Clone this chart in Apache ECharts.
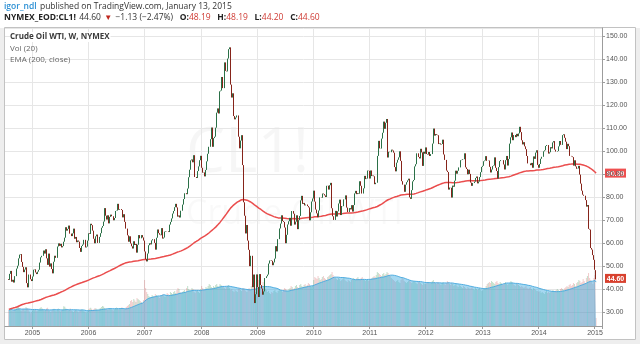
<!DOCTYPE html>
<html>
<head>
<meta charset="utf-8">
<script src="https://cdn.jsdelivr.net/npm/echarts@6/dist/echarts.min.js"></script>
<style>
  html, body { margin: 0; padding: 0; background: #ffffff; }
  #chart { width: 640px; height: 344px; }
</style>
</head>
<body>
<div id="chart"></div>
<script>
// Weekly closes of the WTI front-month contract (CL1!), one value per week, Aug 2004 - Jan 2015.
const closes2004 = [43.95, 46.58, 47.86, 43.18, 43.99, 42.81, 45.59, 48.88, 50.12, 53.31, 54.93, 55.17, 51.76, 49.61, 47.32, 48.44, 49.44, 42.54, 40.71, 46.28, 44.24, 43.45];
const closes2005 = [45.43, 48.38, 48.55, 47.18, 46.48, 47.54, 48.35, 51.49, 53.78, 54.43, 56.72, 55.40, 57.27, 53.32, 50.49, 55.39, 49.72, 51.12, 48.67, 46.80, 51.85, 54.45, 53.54, 58.47, 59.84, 58.75, 59.63, 58.09, 58.65, 60.57, 62.31, 66.86, 65.36, 66.13, 67.57, 64.08, 63.00, 64.19, 66.24, 61.84, 62.63, 60.34, 61.09, 60.58, 57.83, 56.14, 58.71, 59.32, 61.37, 58.06, 58.43, 61.04];
const closes2006 = [64.21, 63.92, 68.35, 67.76, 65.37, 61.84, 59.88, 62.91, 63.67, 60.04, 62.66, 64.26, 66.63, 67.39, 69.32, 75.17, 71.88, 70.19, 72.04, 68.53, 71.37, 72.33, 71.63, 69.89, 70.87, 73.93, 74.09, 77.03, 74.43, 74.76, 74.76, 74.35, 71.14, 72.51, 69.20, 66.25, 63.33, 60.55, 62.91, 59.76, 58.57, 57.60, 60.75, 59.14, 59.58, 55.81, 59.24, 63.43, 62.03, 63.43, 62.41, 61.05];
const closes2007 = [56.31, 52.99, 51.99, 55.42, 59.02, 59.89, 59.39, 61.14, 61.64, 60.05, 57.11, 62.28, 65.87, 64.28, 63.63, 63.38, 66.46, 61.93, 62.37, 64.94, 65.20, 65.08, 64.76, 68.00, 69.18, 70.68, 72.81, 73.93, 75.57, 77.02, 75.48, 71.47, 71.98, 71.09, 74.04, 76.70, 79.10, 81.62, 81.66, 81.22, 83.69, 88.60, 91.86, 95.93, 96.32, 95.10, 98.18, 88.71, 88.28, 91.27, 93.31, 96.00];
const closes2008 = [97.91, 92.69, 90.57, 90.71, 88.96, 91.77, 95.50, 98.81, 101.84, 105.15, 110.21, 101.84, 105.62, 106.23, 110.14, 116.69, 118.52, 116.32, 125.96, 126.29, 132.19, 127.35, 138.54, 134.86, 134.62, 140.21, 144.29, 145.08, 128.88, 123.26, 125.10, 115.20, 113.77, 114.59, 115.46, 106.23, 101.18, 104.55, 106.89, 93.88, 77.70, 71.85, 64.15, 67.81, 61.04, 57.04, 49.93, 54.43, 40.81, 46.28, 33.87, 37.71];
const closes2009 = [46.34, 40.83, 36.51, 46.47, 41.68, 40.17, 37.51, 38.94, 44.76, 45.52, 46.25, 51.06, 52.38, 52.51, 52.24, 50.33, 51.55, 53.20, 58.63, 56.34, 61.67, 66.31, 68.44, 72.04, 69.55, 69.16, 66.73, 59.89, 63.56, 68.05, 69.45, 70.93, 67.51, 73.89, 72.74, 68.02, 69.29, 72.04, 66.02, 69.95, 71.77, 78.53, 80.50, 77.00, 77.43, 76.35, 76.72, 76.05, 75.47, 69.87, 73.36, 78.05, 79.36];
const closes2010 = [82.75, 78.00, 74.54, 72.89, 71.19, 74.13, 79.81, 79.66, 81.50, 81.24, 80.68, 80.00, 84.87, 84.92, 83.24, 85.12, 86.15, 75.11, 71.61, 70.04, 73.97, 71.51, 73.78, 77.18, 78.86, 72.14, 76.09, 76.01, 78.98, 78.95, 80.70, 75.39, 73.46, 75.17, 74.60, 76.45, 73.66, 76.49, 81.58, 82.66, 81.25, 81.69, 81.43, 86.85, 84.88, 81.51, 83.76, 89.19, 87.79, 88.02, 91.51, 91.38];
const closes2011 = [88.03, 91.54, 89.11, 89.34, 89.03, 85.58, 86.20, 97.88, 104.42, 101.16, 101.07, 105.40, 107.94, 112.79, 109.66, 112.29, 113.93, 97.18, 99.65, 99.49, 100.59, 100.22, 99.29, 93.01, 91.16, 94.94, 96.20, 97.24, 99.87, 95.70, 86.88, 85.38, 82.26, 85.37, 86.45, 87.24, 87.96, 79.85, 79.20, 82.98, 86.80, 87.40, 93.32, 94.26, 98.99, 97.41, 96.77, 100.96, 99.41, 93.53, 99.68, 98.83];
const closes2012 = [101.56, 98.70, 98.46, 99.56, 97.84, 98.67, 103.24, 109.77, 106.70, 107.40, 107.06, 106.87, 103.02, 103.31, 102.83, 103.05, 104.93, 98.49, 96.13, 91.48, 90.86, 83.23, 84.10, 84.03, 79.76, 84.96, 84.45, 87.10, 91.44, 90.13, 91.40, 92.87, 96.01, 96.15, 96.47, 96.42, 99.00, 92.89, 92.19, 89.88, 91.86, 90.05, 86.28, 84.86, 86.07, 86.67, 88.28, 88.91, 85.93, 86.73, 88.66, 90.80];
const closes2013 = [93.09, 93.56, 95.56, 95.88, 97.77, 95.72, 95.86, 93.13, 90.68, 91.95, 93.45, 93.71, 97.23, 92.70, 91.29, 88.01, 93.00, 95.61, 96.04, 96.02, 94.15, 91.97, 96.03, 97.85, 93.69, 96.56, 103.22, 105.95, 108.05, 104.70, 106.94, 106.03, 107.46, 106.42, 107.65, 110.53, 108.21, 104.67, 102.87, 103.84, 102.02, 100.81, 97.85, 94.61, 94.60, 93.84, 94.84, 92.72, 97.65, 96.60, 99.32, 100.32];
const closes2014 = [93.96, 92.72, 94.37, 96.64, 97.49, 99.88, 100.30, 102.20, 102.59, 102.58, 98.89, 99.46, 101.67, 101.14, 103.74, 104.30, 100.60, 99.76, 99.99, 102.02, 104.35, 102.71, 102.66, 106.91, 107.26, 105.74, 104.06, 100.83, 103.13, 102.09, 97.88, 97.65, 97.35, 93.65, 95.96, 93.29, 92.27, 92.41, 93.54, 89.74, 85.82, 82.75, 81.01, 80.54, 78.65, 75.82, 76.51, 66.15, 65.84, 57.81, 57.13, 54.73];
const closes2015 = [52.69, 48.36, 44.60];

// Weekly volume, thousand contracts, same weeks as the closes.
const volume2004 = [780, 820, 900, 760, 740, 800, 850, 930, 980, 1010, 870, 790, 760, 820, 880, 760, 950, 900, 830, 720, 640, 700];
const volume2005 = [760, 820, 790, 850, 740, 780, 830, 900, 950, 880, 820, 760, 800, 870, 910, 780, 750, 700, 760, 820, 860, 780, 740, 800, 880, 760, 720, 780, 850, 990, 960, 880, 820, 760, 800, 870, 780, 740, 700, 760, 820, 780, 720, 690, 760, 800, 840, 760, 730, 700, 680, 720];
const volume2006 = [820, 880, 910, 860, 800, 840, 900, 870, 820, 780, 860, 900, 950, 1000, 980, 900, 860, 820, 800, 850, 880, 840, 800, 780, 830, 900, 920, 880, 820, 860, 900, 940, 880, 820, 860, 950, 1000, 1050, 1100, 1250, 1300, 1200, 1350, 1280, 1200, 1400, 1350, 1300, 1250, 1200, 1150, 1300];
const volume2007 = [2300, 1900, 1700, 1600, 1500, 1450, 1400, 1550, 1500, 1450, 1600, 1550, 1500, 1450, 1400, 1500, 1550, 1600, 1500, 1450, 1550, 1650, 1600, 1550, 1700, 1650, 1600, 1700, 1750, 1650, 1800, 1900, 1850, 1700, 1650, 1700, 1750, 1800, 1700, 1900, 2000, 1850, 1800, 1750, 1900, 1850, 1700, 1650, 1750, 1800, 1700, 1650];
const volume2008 = [1850, 2000, 1900, 1800, 1850, 1950, 1900, 2000, 2100, 2050, 1950, 1900, 2000, 1950, 2050, 2100, 2000, 1950, 2100, 2050, 1950, 2000, 1900, 1850, 1950, 2000, 2050, 1900, 1800, 1850, 1750, 1700, 1800, 1750, 1700, 1850, 1900, 1800, 1750, 1850, 1900, 1800, 1750, 1700, 1800, 1900, 1850, 2000, 2100, 1950, 1850, 1700];
const volume2009 = [2400, 2550, 2300, 2100, 1900, 1800, 2200, 2000, 1850, 1800, 1700, 1750, 1650, 1600, 1700, 1650, 1750, 1800, 1700, 1650, 1750, 1850, 1800, 1750, 1700, 1800, 1900, 1850, 1800, 1750, 1850, 1900, 2000, 1950, 1850, 1900, 2000, 2050, 1950, 1900, 2050, 2100, 2000, 1950, 2050, 2100, 2000, 2050, 2150, 2100, 2000, 1950, 2050];
const volume2010 = [2300, 2450, 2400, 2350, 2500, 2400, 2300, 2350, 2450, 2500, 2400, 2350, 2300, 2450, 2500, 2550, 2600, 2700, 2550, 2450, 2400, 2350, 2300, 2400, 2350, 2250, 2300, 2350, 2400, 2300, 2250, 2200, 2300, 2250, 2200, 2300, 2350, 2400, 2350, 2300, 2400, 2450, 2350, 2300, 2400, 2450, 2350, 2300, 2250, 2300, 2350, 2250];
const volume2011 = [2300, 2350, 2400, 2450, 2500, 2450, 2550, 2700, 2650, 2600, 2550, 2500, 2600, 2650, 2550, 2600, 2700, 2650, 2550, 2500, 2400, 2350, 2300, 2250, 2200, 2250, 2300, 2200, 2150, 2300, 2400, 2350, 2250, 2200, 2150, 2200, 2250, 2300, 2200, 2150, 2200, 2250, 2200, 2150, 2100, 2200, 2250, 2150, 2100, 2050, 2150, 2100];
const volume2012 = [2100, 2150, 2200, 2150, 2100, 2200, 2250, 2300, 2200, 2150, 2100, 2200, 2150, 2100, 2050, 2150, 2200, 2100, 2050, 2150, 2250, 2200, 2100, 2050, 2150, 2100, 2000, 2050, 2100, 2000, 1950, 2050, 2000, 1950, 1900, 2000, 1950, 1900, 1850, 1950, 1900, 1850, 1900, 1950, 1850, 1800, 1900, 1850, 1800, 1850, 1900, 1800];
const volume2013 = [1750, 1800, 1850, 1900, 2000, 2100, 2150, 2200, 2150, 2250, 2200, 2150, 2100, 2200, 2250, 2150, 2100, 2200, 2150, 2100, 2050, 2150, 2200, 2100, 2050, 2100, 2150, 2250, 2200, 2100, 2050, 2000, 2100, 2150, 2050, 2000, 1950, 2000, 1950, 1900, 1950, 2000, 1900, 1850, 1900, 1950, 1850, 1800, 1900, 1850, 1800, 1750];
const volume2014 = [1750, 1700, 1750, 1650, 1700, 1650, 1600, 1700, 1750, 1650, 1700, 1650, 1700, 1750, 1800, 1700, 1750, 1800, 1850, 1800, 1750, 1850, 1900, 1850, 1800, 1900, 1950, 2000, 1950, 2050, 2100, 2000, 2050, 2150, 2100, 2000, 2150, 2200, 2300, 2250, 2150, 2200, 2350, 2250, 2150, 2400, 2500, 2650, 2400, 2300, 2200, 2100];
const volume2015 = [2400, 2550, 400];

// Current (last) weekly bar as quoted in the header.
const lastOpen = 48.19, lastHigh = 48.19, lastLow = 44.20, lastClose = 44.60;
const firstOpen = 44.30;       // open of the first week
const emaSeed = 31.0;          // EMA(200) value carried in from the weeks before the first bar
const emaLength = 200;
const volMaLength = 20;
const priceTicks = [30, 40, 50, 60, 70, 80, 90, 100, 110, 120, 130, 140, 150];

const closes = [].concat(closes2004, closes2005, closes2006, closes2007, closes2008, closes2009,
  closes2010, closes2011, closes2012, closes2013, closes2014, closes2015);
const volumes = [].concat(volume2004, volume2005, volume2006, volume2007, volume2008, volume2009,
  volume2010, volume2011, volume2012, volume2013, volume2014, volume2015);

// Empty weeks kept on both sides of the series, as the chart leaves a small margin.
const padBefore = 3, padAfter = 5;
const firstMonday = Date.UTC(2004, 6, 12);
const nWeeks = padBefore + closes.length + padAfter;
const weekDates = [];
for (let i = 0; i < nWeeks; i++) {
  const d = new Date(firstMonday + i * 7 * 86400000);
  weekDates.push(d.toISOString().slice(0, 10));
}
const isYearStart = (idx) => idx > 0 && weekDates[idx].slice(0, 4) !== weekDates[idx - 1].slice(0, 4);

// OHLC: each week opens at the previous week's close.
const ohlc = [], volBars = [], emaLine = [], volMa = [];
let ema = emaSeed;
for (let i = 0; i < padBefore; i++) { ohlc.push('-'); volBars.push('-'); emaLine.push('-'); volMa.push('-'); }
closes.forEach((c, i) => {
  const last = i === closes.length - 1;
  const o = last ? lastOpen : (i === 0 ? firstOpen : closes[i - 1]);
  const hi = last ? lastHigh : Math.max(o, c);
  const lo = last ? lastLow : Math.min(o, c);
  ohlc.push([o, c, lo, hi]);
  const up = c >= o;
  volBars.push({ value: volumes[i], itemStyle: { color: up ? 'rgba(60,150,85,0.3)' : 'rgba(205,60,60,0.26)' } });
  ema = ema + (2 / (emaLength + 1)) * (c - ema);
  emaLine.push(+ema.toFixed(2));
  const from = Math.max(0, i - volMaLength + 1);
  const win = volumes.slice(from, i + 1);
  volMa.push(win.reduce((a, b) => a + b, 0) / win.length);
});
for (let i = 0; i < padAfter; i++) { ohlc.push('-'); volBars.push('-'); emaLine.push('-'); volMa.push('-'); }
const emaLast = emaLine[padBefore + closes.length - 1];

const chart = echarts.init(document.getElementById('chart'), null, { renderer: 'canvas' });
const axisFont = '"Liberation Sans", Arial, sans-serif';
const uiFont = '"Open Sans", "Liberation Sans", sans-serif';

const option = {
  animation: false,
  grid: [
    { left: 5, right: 38, top: 28, bottom: 18 },
    { left: 5, right: 38, top: 26, bottom: 18 }
  ],
  xAxis: [
    {
      type: 'category', gridIndex: 0, data: weekDates, boundaryGap: true,
      axisLine: { lineStyle: { color: '#9c9c9c', width: 1 } },
      axisTick: { show: true, interval: (i) => isYearStart(i), length: 3, lineStyle: { color: '#9c9c9c' } },
      axisLabel: { interval: (i) => isYearStart(i), formatter: (v) => v.slice(0, 4), fontSize: 7, color: '#555', margin: 4, fontFamily: axisFont },
      splitLine: { show: true, interval: (i) => isYearStart(i), lineStyle: { color: '#e6e6e6', width: 1 } }
    },
    { type: 'category', gridIndex: 1, data: weekDates, boundaryGap: true, show: false }
  ],
  yAxis: [
    {
      type: 'value', gridIndex: 0, position: 'right', min: 23.9, max: 153.5,
      splitNumber: 13, minInterval: 10, maxInterval: 10, scale: true,
      axisLine: { show: true, lineStyle: { color: '#9c9c9c' } },
      axisTick: { show: true, length: 3, lineStyle: { color: '#9c9c9c' } },
      axisLabel: {
        fontSize: 7, color: '#555', margin: 4, fontFamily: axisFont,
        showMinLabel: false, showMaxLabel: false,
        formatter: (v) => priceTicks.includes(Math.round(v)) && Math.abs(v - Math.round(v)) < 1e-6 ? v.toFixed(2) : ''
      },
      splitLine: { show: true, lineStyle: { color: '#e6e6e6', width: 1 } }
    },
    { type: 'value', gridIndex: 1, min: 0, max: 15000, show: false, splitLine: { show: false } }
  ],
  series: [
    {
      name: 'Vol', type: 'bar', xAxisIndex: 1, yAxisIndex: 1, data: volBars,
      barWidth: 0.7, z: 1, silent: true
    },
    {
      name: 'Vol MA', type: 'line', xAxisIndex: 1, yAxisIndex: 1, data: volMa,
      showSymbol: false, z: 2, silent: true,
      lineStyle: { color: 'rgba(75,170,222,0.95)', width: 1 },
      areaStyle: { color: 'rgba(78,178,228,0.72)' }
    },
    {
      name: 'EMA (200, close)', type: 'line', xAxisIndex: 0, yAxisIndex: 0, data: emaLine,
      showSymbol: false, z: 4, silent: true,
      lineStyle: { color: '#ea4d4d', width: 1.5 }
    },
    {
      name: 'CL1!', type: 'candlestick', xAxisIndex: 0, yAxisIndex: 0, data: ohlc,
      barWidth: 1.3, z: 5, silent: true,
      itemStyle: { color: '#4b9a68', color0: '#b8382a', borderColor: '#2b7047', borderColor0: '#86241a', borderWidth: 1 }
    }
  ],
  graphic: []
};
chart.setOption(option);

function buildGraphics() {
  const tag = (value, text, color) => {
    const y = chart.convertToPixel({ yAxisIndex: 0 }, value);
    return {
      type: 'group', z: 100,
      children: [
        { type: 'rect', shape: { x: 605, y: y - 4.5, width: 21, height: 9 }, style: { fill: color } },
        { type: 'text', x: 615.5, y: y + 0.5, style: { text: text, fill: '#fff', font: 'bold 7px ' + axisFont, align: 'center', verticalAlign: 'middle' } }
      ]
    };
  };
  return [
    // frame around the chart panel
    { type: 'rect', z: -10, silent: true, shape: { x: 0, y: 28, width: 4, height: 316 }, style: { fill: '#eeeeee' } },
    { type: 'rect', z: -10, silent: true, shape: { x: 636, y: 28, width: 4, height: 316 }, style: { fill: '#eeeeee' } },
    { type: 'rect', z: -10, silent: true, shape: { x: 0, y: 340, width: 640, height: 4 }, style: { fill: '#eeeeee' } },
    { type: 'rect', z: -9, silent: true, shape: { x: 4.5, y: 27.5, width: 631, height: 312 }, style: { fill: 'none', stroke: '#c2c2c2', lineWidth: 1 } },
    // faint symbol watermark
    { type: 'text', z: -5, silent: true, x: 186, y: 154, style: { text: 'CL1!', fill: 'rgba(0,0,0,0.035)', font: '62px ' + uiFont, verticalAlign: 'middle' } },
    { type: 'text', z: -5, silent: true, x: 186, y: 214, style: { text: 'Crude Oil WTI', fill: 'rgba(0,0,0,0.025)', font: '34px ' + uiFont, verticalAlign: 'middle' } },
    // header
    {
      type: 'text', x: 4, y: 7, style: {
        text: '{u|igor_ndl} {t|published on TradingView.com, January 13, 2015}', verticalAlign: 'middle',
        rich: {
          u: { fill: '#2a8fd4', font: '600 8.5px ' + uiFont },
          t: { fill: '#333', font: '8.5px ' + uiFont }
        }
      }
    },
    {
      type: 'text', x: 4, y: 18, style: {
        text: '{b|NYMEX_EOD:CL1!} {n|' + lastClose.toFixed(2) + '} {r|▼} {n|−1.13 (−2.47%)}  {b|O:}{v|' + lastOpen.toFixed(2) + '}  {b|H:}{v|' + lastHigh.toFixed(2) + '}  {b|L:}{v|' + lastLow.toFixed(2) + '}  {b|C:}{v|' + lastClose.toFixed(2) + '}',
        verticalAlign: 'middle',
        rich: {
          b: { fill: '#222', font: 'bold 8.5px ' + uiFont },
          n: { fill: '#333', font: '8.5px ' + uiFont },
          r: { fill: '#c0281e', font: '8px ' + uiFont },
          v: { fill: '#cf3b34', font: '8.5px ' + uiFont }
        }
      }
    },
    // pane legend
    { type: 'text', z: 50, x: 10, y: 37, style: { text: 'Crude Oil WTI, W, NYMEX', fill: '#3a3a3a', font: 'bold 8px ' + uiFont, verticalAlign: 'middle', backgroundColor: '#ffffff', padding: [1, 1, 1, 0] } },
    { type: 'text', z: 50, x: 10, y: 48.5, style: { text: 'Vol (20)', fill: '#666', font: '8px ' + uiFont, verticalAlign: 'middle' } },
    { type: 'text', z: 50, x: 10, y: 60, style: { text: 'EMA (200, close)', fill: '#666', font: '8px ' + uiFont, verticalAlign: 'middle' } },
    // last-value tags on the price scale
    tag(emaLast, emaLast.toFixed(2), '#ee5050'),
    tag(lastClose, lastClose.toFixed(2), '#d8412f')
  ];
}
chart.setOption({ graphic: buildGraphics() });
</script>
</body>
</html>
